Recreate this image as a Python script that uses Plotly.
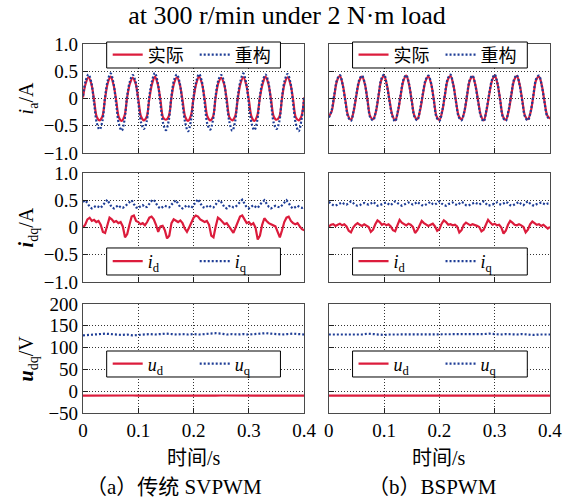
import plotly.graph_objects as go

# ---------------- data ----------------
t_ia = [round(0.005 * i, 3) for i in range(81)]
t_idq = [round(0.004 * i, 3) for i in range(101)]
t_udq = [round(0.01 * i, 2) for i in range(41)]

ia_act_a = [
    0.02, 0.28, 0.39, 0.27, -0.02, -0.34, -0.40, -0.33,
    0.01, 0.29, 0.40, 0.26, -0.03, -0.35, -0.41, -0.32,
    0.03, 0.28, 0.38, 0.28, -0.01, -0.33, -0.40, -0.34,
    0.00, 0.27, 0.40, 0.27, -0.02, -0.35, -0.39, -0.33,
    0.02, 0.29, 0.39, 0.26, -0.03, -0.34, -0.41, -0.32,
    0.01, 0.28, 0.40, 0.28, -0.01, -0.33, -0.40, -0.34,
    0.03, 0.29, 0.38, 0.27, -0.02, -0.35, -0.40, -0.33,
    0.00, 0.28, 0.39, 0.26, -0.03, -0.34, -0.41, -0.32,
    0.02, 0.27, 0.40, 0.28, -0.01, -0.33, -0.39, -0.34,
    0.01, 0.29, 0.39, 0.27, -0.02, -0.35, -0.40, -0.33,
    0.02]
ia_rec_a = [
    0.05, 0.33, 0.44, 0.30, -0.08, -0.45, -0.57, -0.42,
    0.03, 0.34, 0.46, 0.29, -0.10, -0.47, -0.59, -0.40,
    0.06, 0.32, 0.43, 0.31, -0.07, -0.44, -0.56, -0.43,
    0.04, 0.33, 0.47, 0.30, -0.09, -0.46, -0.58, -0.41,
    0.05, 0.35, 0.44, 0.28, -0.10, -0.45, -0.60, -0.42,
    0.03, 0.32, 0.45, 0.31, -0.08, -0.47, -0.57, -0.40,
    0.06, 0.34, 0.43, 0.30, -0.09, -0.44, -0.59, -0.43,
    0.04, 0.33, 0.46, 0.29, -0.10, -0.46, -0.58, -0.41,
    0.05, 0.32, 0.44, 0.31, -0.07, -0.45, -0.56, -0.42,
    0.03, 0.34, 0.45, 0.30, -0.09, -0.47, -0.60, -0.40,
    0.04]
ia_act_b = [
    -0.33, -0.24, 0.06, 0.33, 0.41, 0.26, -0.04, -0.32,
    -0.39, -0.23, 0.07, 0.32, 0.40, 0.27, -0.03, -0.33,
    -0.38, -0.25, 0.05, 0.34, 0.41, 0.25, -0.05, -0.31,
    -0.40, -0.24, 0.06, 0.33, 0.42, 0.26, -0.04, -0.32,
    -0.38, -0.22, 0.07, 0.32, 0.40, 0.27, -0.03, -0.33,
    -0.39, -0.24, 0.06, 0.34, 0.41, 0.26, -0.05, -0.32,
    -0.38, -0.25, 0.05, 0.33, 0.40, 0.25, -0.04, -0.31,
    -0.40, -0.23, 0.07, 0.32, 0.42, 0.27, -0.03, -0.33,
    -0.39, -0.24, 0.06, 0.33, 0.41, 0.26, -0.04, -0.32,
    -0.38, -0.25, 0.05, 0.34, 0.40, 0.25, -0.05, -0.31,
    -0.37]
ia_rec_b = [
    -0.35, -0.22, 0.08, 0.35, 0.43, 0.25, -0.06, -0.34,
    -0.41, -0.21, 0.09, 0.34, 0.42, 0.28, -0.05, -0.35,
    -0.40, -0.24, 0.07, 0.36, 0.44, 0.24, -0.07, -0.33,
    -0.42, -0.22, 0.08, 0.35, 0.43, 0.27, -0.06, -0.34,
    -0.40, -0.20, 0.09, 0.34, 0.42, 0.28, -0.05, -0.35,
    -0.41, -0.23, 0.08, 0.36, 0.44, 0.25, -0.07, -0.34,
    -0.40, -0.24, 0.07, 0.35, 0.42, 0.24, -0.06, -0.33,
    -0.42, -0.21, 0.09, 0.34, 0.44, 0.28, -0.05, -0.35,
    -0.41, -0.22, 0.08, 0.35, 0.43, 0.25, -0.06, -0.34,
    -0.40, -0.24, 0.07, 0.36, 0.42, 0.24, -0.07, -0.33,
    -0.39]

id_a = [
    0.00, 0.05, 0.15, 0.18, 0.12, 0.14, 0.10, 0.12, 0.05, -0.08,
    -0.10, 0.05, 0.18, 0.15, 0.10, 0.12, 0.08, 0.10, 0.02, -0.18,
    -0.12, 0.05, 0.20, 0.22, 0.12, 0.10, 0.06, 0.08, 0.04, 0.10,
    0.18, 0.20, 0.15, 0.05, -0.08, 0.02, 0.03, -0.05, -0.20, -0.15,
    0.08, 0.15, 0.12, 0.10, 0.13, 0.08, -0.02, -0.08, 0.00, 0.10,
    0.18, 0.22, 0.20, 0.15, 0.12, 0.10, 0.12, 0.05, -0.15, -0.18,
    0.02, 0.18, 0.15, 0.10, 0.06, 0.08, 0.02, -0.05, -0.10, 0.00,
    0.12, 0.20, 0.22, 0.15, 0.08, 0.10, 0.05, 0.08, 0.00, -0.22,
    -0.15, 0.05, 0.17, 0.12, 0.08, 0.06, 0.04, 0.02, -0.08, -0.18,
    -0.05, 0.10, 0.18, 0.20, 0.12, 0.08, 0.06, 0.08, 0.02, -0.03,
    -0.05]
iq_a = [
    0.47, 0.50, 0.45, 0.38, 0.35, 0.37, 0.40, 0.38, 0.36, 0.41,
    0.46, 0.51, 0.44, 0.37, 0.35, 0.38, 0.41, 0.37, 0.36, 0.39,
    0.43, 0.47, 0.50, 0.43, 0.37, 0.35, 0.39, 0.41, 0.37, 0.38,
    0.44, 0.49, 0.51, 0.45, 0.38, 0.35, 0.37, 0.40, 0.38, 0.37,
    0.42, 0.47, 0.50, 0.44, 0.37, 0.35, 0.38, 0.41, 0.38, 0.36,
    0.41, 0.47, 0.52, 0.45, 0.38, 0.36, 0.38, 0.41, 0.37, 0.37,
    0.42, 0.48, 0.50, 0.43, 0.37, 0.35, 0.39, 0.40, 0.37, 0.38,
    0.43, 0.48, 0.51, 0.44, 0.37, 0.35, 0.38, 0.41, 0.38, 0.36,
    0.42, 0.47, 0.50, 0.44, 0.38, 0.35, 0.37, 0.40, 0.38, 0.37,
    0.41, 0.46, 0.50, 0.45, 0.38, 0.35, 0.38, 0.40, 0.37, 0.36,
    0.38]
id_b = [
    0.02, 0.05, 0.06, 0.03, 0.05, 0.07, 0.04, 0.06, 0.02, -0.06,
    -0.09, 0.00, 0.05, 0.08, 0.05, 0.03, 0.06, 0.04, 0.01, -0.08,
    -0.04, 0.06, 0.13, 0.10, 0.05, 0.07, 0.04, 0.06, 0.02, -0.05,
    -0.07, 0.04, 0.14, 0.09, 0.06, 0.04, 0.07, 0.05, 0.01, -0.10,
    -0.05, 0.05, 0.12, 0.08, 0.06, 0.03, 0.05, 0.07, 0.02, -0.06,
    -0.03, 0.07, 0.13, 0.10, 0.05, 0.06, 0.04, 0.05, 0.02, -0.09,
    -0.05, 0.05, 0.09, 0.07, 0.04, 0.06, 0.05, 0.03, 0.01, -0.07,
    -0.04, 0.06, 0.14, 0.09, 0.05, 0.07, 0.04, 0.05, 0.00, -0.11,
    -0.06, 0.05, 0.12, 0.09, 0.05, 0.04, 0.06, 0.04, 0.01, -0.09,
    -0.04, 0.06, 0.11, 0.08, 0.05, 0.06, 0.03, 0.05, 0.02, -0.02,
    0.01]
iq_b = [
    0.47, 0.44, 0.41, 0.40, 0.42, 0.44, 0.46, 0.43, 0.42, 0.45,
    0.48, 0.45, 0.41, 0.40, 0.41, 0.44, 0.45, 0.43, 0.42, 0.44,
    0.47, 0.44, 0.40, 0.41, 0.43, 0.45, 0.46, 0.43, 0.41, 0.45,
    0.48, 0.45, 0.42, 0.40, 0.42, 0.44, 0.46, 0.44, 0.42, 0.44,
    0.47, 0.44, 0.41, 0.40, 0.42, 0.45, 0.47, 0.43, 0.42, 0.45,
    0.48, 0.44, 0.41, 0.40, 0.43, 0.44, 0.46, 0.43, 0.41, 0.44,
    0.47, 0.45, 0.41, 0.40, 0.42, 0.44, 0.46, 0.44, 0.42, 0.45,
    0.48, 0.44, 0.40, 0.41, 0.42, 0.45, 0.46, 0.43, 0.42, 0.44,
    0.47, 0.45, 0.41, 0.40, 0.42, 0.44, 0.47, 0.43, 0.41, 0.45,
    0.48, 0.44, 0.41, 0.40, 0.43, 0.44, 0.46, 0.44, 0.42, 0.44,
    0.45]

ud_a = [-10.2, -10.0, -9.9, -10.1, -10.0, -9.8, -10.1, -10.2, -10.0, -9.9,
        -10.0, -10.1, -10.0, -9.9, -10.2, -10.0, -9.8, -10.0, -10.1, -10.0,
        -9.9, -10.1, -10.0, -10.2, -10.0, -9.9, -10.0, -10.1, -10.0, -9.8,
        -10.0, -10.2, -10.1, -10.0, -9.9, -10.0, -10.1, -10.0, -9.9, -10.1,
        -10.0]
uq_a = [128, 129, 130, 131, 132, 131, 130, 129, 130, 128,
        129, 130, 131, 130, 131, 132, 131, 130, 131, 130,
        131, 130, 131, 132, 133, 132, 130, 131, 130, 131,
        130, 131, 132, 133, 132, 131, 130, 131, 132, 131,
        130]
ud_b = [-10.0, -10.1, -10.0, -9.9, -10.0, -10.1, -10.0, -10.0, -9.9, -10.1,
        -10.0, -10.0, -10.1, -9.9, -10.0, -10.0, -10.1, -10.0, -9.9, -10.0,
        -10.1, -10.0, -10.0, -9.9, -10.1, -10.0, -10.0, -10.1, -9.9, -10.0,
        -10.0, -10.1, -10.0, -9.9, -10.0, -10.1, -10.0, -10.0, -9.9, -10.0,
        -10.1]
uq_b = [130, 130, 131, 130, 130, 131, 130, 132, 131, 130,
        129, 130, 130, 131, 130, 130, 131, 130, 130, 131,
        130, 130, 131, 130, 130, 131, 130, 130, 131, 132,
        131, 130, 131, 130, 130, 131, 130, 129, 130, 130,
        130]

yticks_i = [-1.0, -0.5, 0.0, 0.5, 1.0]
yticktext_i = ["\u22121.0", "\u22120.5", "0", "0.5", "1.0"]
yticks_u = [-50, 0, 50, 100, 150, 200]
yticktext_u = ["\u221250", "0", "50", "100", "150", "200"]
xticks = [0, 0.1, 0.2, 0.3, 0.4]
xticktext = ["0", "0.1", "0.2", "0.3", "0.4"]

# ---------------- style ----------------
RED = "#DC1C3C"
BLUE = "#1E3D96"
FRAME = "#4a4a4a"
SERIF = "Liberation Serif, Noto Sans CJK SC, serif"

fig = go.Figure()

xdom = [[0.0, 0.4736], [0.5264, 1.0]]
ydom = [[0.7046, 1.0], [0.3550, 0.6504], [0.0, 0.2954]]

panels = [
    (0, 0, t_ia, ia_act_a, ia_rec_a, "实际", "重构", True),
    (0, 1, t_ia, ia_act_b, ia_rec_b, "实际", "重构", True),
    (1, 0, t_idq, id_a, iq_a, "<i>i</i><sub>d</sub>", "<i>i</i><sub>q</sub>", False),
    (1, 1, t_idq, id_b, iq_b, "<i>i</i><sub>d</sub>", "<i>i</i><sub>q</sub>", False),
    (2, 0, t_udq, ud_a, uq_a, "<i>u</i><sub>d</sub>", "<i>u</i><sub>q</sub>", False),
    (2, 1, t_udq, ud_b, uq_b, "<i>u</i><sub>d</sub>", "<i>u</i><sub>q</sub>", False),
]

# legend frame boxes (paper coords): x0, x1 per column; y0, y1 per row
box_x = [(0.0507, 0.4228), (0.5772, 0.9514)]
box_y = [(0.9350, 1.0054), (0.3740, 0.4472), (0.0976, 0.1680)]
leg_x = [0.0529, 0.5793]

layout_extra = {}
shapes = []
for idx, (r, c, t, yr, yb, nr, nb, spl) in enumerate(panels):
    n = idx + 1
    xa = "x" if n == 1 else f"x{n}"
    ya = "y" if n == 1 else f"y{n}"
    lg = "legend" if n == 1 else f"legend{n}"
    shape = "spline" if spl else "linear"
    fig.add_trace(go.Scatter(x=t, y=yr, mode="lines", name=nr, xaxis=xa, yaxis=ya,
                             legend=lg, line=dict(color=RED, width=2.2, shape=shape)))
    fig.add_trace(go.Scatter(x=t, y=yb, mode="lines", name=nb, xaxis=xa, yaxis=ya,
                             legend=lg, line=dict(color=BLUE, width=2.2, dash="2px,2px", shape=shape)))
    axis_common = dict(showline=True, mirror=True, linecolor=FRAME, linewidth=1.2,
                       ticks="inside", ticklen=5, tickcolor="#222", tickwidth=1,
                       showgrid=True, gridcolor="#333", gridwidth=1, griddash="1px,2px",
                       zeroline=False, tickfont=dict(family=SERIF, size=19, color="black"))
    xkey = "xaxis" if n == 1 else f"xaxis{n}"
    ykey = "yaxis" if n == 1 else f"yaxis{n}"
    layout_extra[xkey] = dict(axis_common, domain=xdom[c], anchor=ya, range=[0, 0.4],
                              tickvals=xticks, ticktext=xticktext,
                              showticklabels=(r == 2))
    if r < 2:
        yax = dict(range=[-1, 1], tickvals=yticks_i, ticktext=yticktext_i)
    else:
        yax = dict(range=[-50, 200], tickvals=yticks_u, ticktext=yticktext_u)
    layout_extra[ykey] = dict(axis_common, domain=ydom[r], anchor=xa,
                              showticklabels=(c == 0), **yax)
    bx0, bx1 = box_x[c]
    by0, by1 = box_y[r]
    shapes.append(dict(type="rect", xref="paper", yref="paper", x0=bx0, x1=bx1,
                       y0=by0, y1=by1, fillcolor="white",
                       line=dict(color="black", width=1), layer="above"))
    layout_extra[lg] = dict(orientation="h", x=leg_x[c], y=(by0 + by1) / 2,
                            xanchor="left", yanchor="middle",
                            bgcolor="rgba(0,0,0,0)", borderwidth=0,
                            entrywidth=42, itemwidth=30,
                            font=dict(family=SERIF, size=18, color="black"))

fig.update_layout(shapes=shapes, **layout_extra)

annotations = [
    dict(text="<i>i</i><sub>a</sub>/A", x=-0.118, y=0.8523, textangle=-90),
    dict(text="<b><i>i</i></b><sub>dq</sub>/A", x=-0.118, y=0.5027, textangle=-90),
    dict(text="<b><i>u</i></b><sub>dq</sub>/V", x=-0.118, y=0.1477, textangle=-90),
    dict(text="时间/s", x=0.2368, y=-0.122),
    dict(text="时间/s", x=0.7632, y=-0.122),
]
for a in annotations:
    fig.add_annotation(xref="paper", yref="paper", showarrow=False,
                       xanchor="center", yanchor="middle",
                       font=dict(family=SERIF, size=20, color="black"), **a)
fig.add_annotation(xref="paper", yref="paper", showarrow=False, text="（a）传统 SVPWM",
                   x=0.002, y=-0.2005, xanchor="left", yanchor="middle",
                   font=dict(family=SERIF, size=21, color="black"))
fig.add_annotation(xref="paper", yref="paper", showarrow=False, text="（b）BSPWM",
                   x=0.6068, y=-0.2005, xanchor="left", yanchor="middle",
                   font=dict(family=SERIF, size=21, color="black"))

fig.update_layout(
    width=574, height=499,
    margin=dict(l=83, r=18, t=44, b=86),
    paper_bgcolor="white", plot_bgcolor="white",
    title=dict(text="at 300 r/min under 2 N·m load", x=0.5, xanchor="center",
               y=1 - 15 / 499, yanchor="middle",
               font=dict(family=SERIF, size=26, color="black")),
    showlegend=True,
)

fig.write_html("out.html")
